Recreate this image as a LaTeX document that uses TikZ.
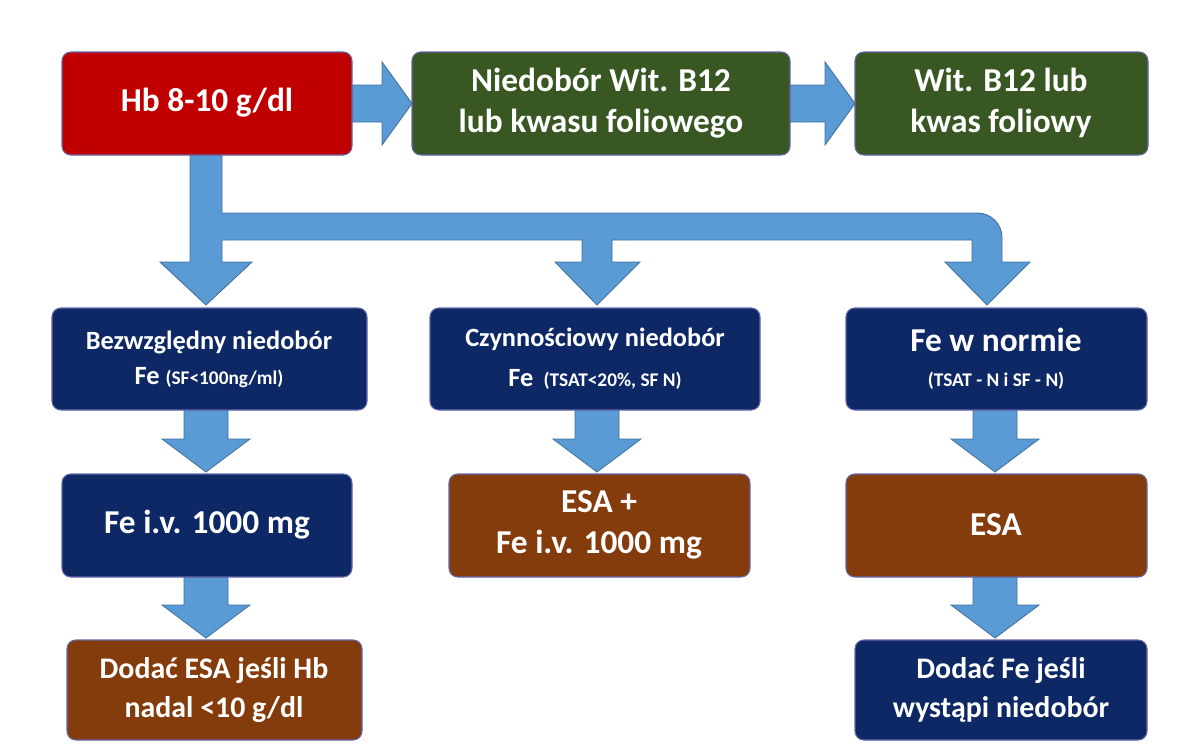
\documentclass[tikz,border=0pt]{standalone}
\usepackage{fontspec}
\setmainfont{Carlito}
\begin{document}
\begin{tikzpicture}[x=0.02cm,y=-0.02cm,
 box/.style={draw=black!55!blue!60,line width=0.6pt,rounded corners=5pt,text=white,font=\bfseries,align=center},
 red/.style={box,fill={rgb,255:red,192;green,0;blue,0}},
 grn/.style={box,fill={rgb,255:red,56;green,87;blue,35}},
 nav/.style={box,fill={rgb,255:red,13;green,40;blue,100}},
 brn/.style={box,fill={rgb,255:red,132;green,60;blue,12}},
 arr/.style={fill={rgb,255:red,91;green,155;blue,213},draw={rgb,255:red,65;green,113;blue,156},line width=0.5pt,line join=miter},
 big/.style={font=\fontsize{19}{23}\selectfont\bfseries},
 mid/.style={font=\fontsize{15}{20}\selectfont\bfseries}]
\useasboundingbox (0,0) rectangle (1200,747);
\newcommand{\bx}[6]{\path[#1] (#2,#3) rectangle (#4,#5); \node[text=white,align=center] at ({(#2+#4)/2},{(#3+#5)/2}) {#6};}
% arrows
\path[arr] (190,155) -- (190,262) -- (160,262) -- (206,305) -- (252,262) -- (222,262) -- (222,240) -- (582,240) -- (582,262) -- (555,262) -- (597,305) -- (640,262) -- (612,262) -- (612,240) -- (972,240) -- (972,262) -- (945,262) -- (987,305) -- (1030,262) -- (1002,262) [rounded corners=14pt] -- (1002,213) [sharp corners] -- (222,213) -- (222,155) -- cycle;
\newcommand{\harr}[2]{\path[arr] (#1,85) -- ({#2-30},85) -- ({#2-30},62) -- (#2,103.5) -- ({#2-30},145) -- ({#2-30},122) -- (#1,122) -- cycle;}
\harr{352}{412}
\harr{790}{855}
\newcommand{\varr}[3]{\path[arr] ({#1-22},#2) -- ({#1-22},{#3-33}) -- ({#1-44},{#3-33}) -- (#1,#3) -- ({#1+44},{#3-33}) -- ({#1+22},{#3-33}) -- ({#1+22},#2) -- cycle;}
\varr{206}{410}{472}
\varr{597}{410}{472}
\varr{995}{410}{472}
\varr{206}{577}{638}
\varr{995}{577}{638}
% boxes
\path[red] (62,52) rectangle (352,155); \node[big,text=white] (hb) at (207,103) {Hb 8-10 g/dl};
\path[grn] (412,52) rectangle (790,155); \node[big,text=white,align=center] (nb) at (601,103) {Niedobór Wit. B12\\lub kwasu foliowego};
\path[grn] (855,52) rectangle (1148,155); \node[big,text=white,align=center] (wb) at (1001,103) {Wit. B12 lub\\kwas foliowy};
\path[nav] (52,308) rectangle (367,410); \node[mid,text=white,align=center] (bz) at (209,359) {Bezwzględny niedobór\\Fe {\fontsize{11}{13}\selectfont (SF<100ng/ml)}};
\path[nav] (430,308) rectangle (760,410); \node[mid,text=white,align=center] (cz) at (595,359) {Czynnościowy niedobór\\[3pt]Fe {\fontsize{11}{13}\selectfont\ (TSAT<20\%, SF N)}};
\path[nav] (846,308) rectangle (1147,410); \node[big,text=white,align=center] (fn) at (996,359) {Fe w normie\\[-3pt]{\fontsize{11}{13}\selectfont (TSAT - N i SF - N)}};
\path[nav] (62,474) rectangle (352,577); \node[big,text=white] (fe) at (207,525) {Fe i.v. 1000 mg};
\path[brn] (449,474) rectangle (750,577); \node[big,text=white,align=center] (ef) at (599,525) {ESA +\\Fe i.v. 1000 mg};
\path[brn] (846,474) rectangle (1147,577); \node[big,text=white] (es) at (996,525) {ESA};
\path[brn] (67,640) rectangle (362,740); \node[mid,font=\fontsize{17}{22}\selectfont\bfseries,text=white,align=center] (de) at (214,690) {Dodać ESA jeśli Hb\\nadal <10 g/dl};
\path[nav] (855,640) rectangle (1147,740); \node[font=\fontsize{17}{22}\selectfont\bfseries,text=white,align=center] (df) at (1001,690) {Dodać Fe jeśli\\wystąpi niedobór};
\end{tikzpicture}
\end{document}
